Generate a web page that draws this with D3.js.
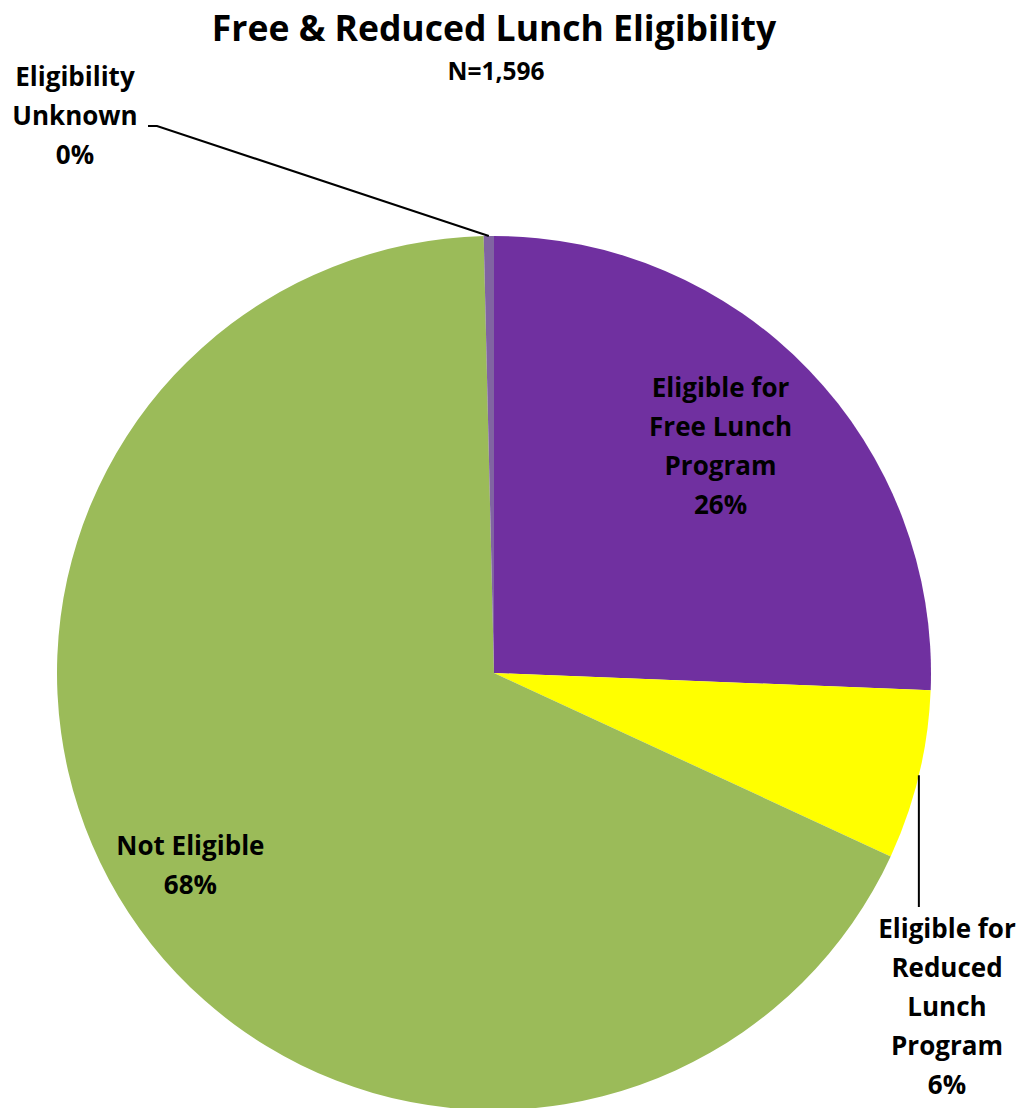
<!DOCTYPE html>
<html>
<head>
<meta charset="utf-8">
<script src="https://cdn.jsdelivr.net/npm/d3@7"></script>
<style>
  html, body { margin: 0; padding: 0; background: #fff; }
  svg { display: block; }
  text { font-family: "Open Sans", "Lato", sans-serif; font-weight: bold; fill: #000; }
</style>
</head>
<body>
<svg id="chart" width="1023" height="1108"></svg>
<script>
// ---- data ----
const categories = [
  "Eligible for Free Lunch Program",
  "Eligible for Reduced Lunch Program",
  "Not Eligible",
  "Eligibility Unknown"
];
const counts = [409, 100, 1081, 6];
const labelLines = [
  ["Eligible for", "Free Lunch", "Program"],
  ["Eligible for", "Reduced", "Lunch", "Program"],
  ["Not Eligible"],
  ["Eligibility", "Unknown"]
];
const colors = ["#7030A0", "#FFFF00", "#9BBB59", "#8064A2"];
const titleText = "Free & Reduced Lunch Eligibility";
const subtitleText = "N=1,596";

// ---- layout ----
const W = 1023, H = 1108;
const cx = 494, cy = 673, R = 437;
const lineH = 39;
const svg = d3.select("#chart");

svg.append("text").attr("x", 494).attr("y", 41)
  .attr("text-anchor", "middle").attr("font-size", 35.5).text(titleText);
svg.append("text").attr("x", 496).attr("y", 80)
  .attr("text-anchor", "middle").attr("font-size", 24.5).text(subtitleText);

const total = d3.sum(counts);
const data = categories.map((c, i) => ({ name: c, value: counts[i], lines: labelLines[i], color: colors[i] }));
const pie = d3.pie().sort(null).value(d => d.value);
const arcs = pie(data);
const arc = d3.arc().innerRadius(0).outerRadius(R);

const g = svg.append("g").attr("transform", `translate(${cx},${cy})`);
g.selectAll("path.slice").data(arcs).enter().append("path")
  .attr("class", "slice")
  .attr("d", arc)
  .attr("fill", d => d.data.color);

const pct = d => Math.round(d.data.value / total * 100) + "%";

// label placement (layout only)
const labelPos = [
  { type: "inside", k: 0.735, dx: -5, dy: -4 },
  { type: "outside", x: 947, y: 929, leaderEndY: 907 },
  { type: "inside", k: 0.82, dx: -4, dy: -4 },
  { type: "outside", x: 75, y: 77, leaderElbowX: 157, leaderEndX: 148, leaderY: 126 }
];

arcs.forEach((a, i) => {
  const lp = labelPos[i];
  const lines = a.data.lines.concat([pct(a)]);
  const mid = (a.startAngle + a.endAngle) / 2;
  let x0, y0;
  if (lp.type === "inside") {
    const c = d3.arc().innerRadius(0).outerRadius(R * lp.k * 2).centroid(a);
    x0 = cx + c[0] + lp.dx;
    y0 = cy + c[1] + lp.dy - (lines.length - 1) * lineH / 2;
  } else {
    x0 = lp.x; y0 = lp.y;
    const px = cx + R * Math.sin(mid), py = cy - R * Math.cos(mid);
    let pts;
    if (lp.leaderEndY !== undefined) {
      pts = [[px, py], [px, lp.leaderEndY]];
    } else {
      pts = [[px, py], [lp.leaderElbowX, lp.leaderY], [lp.leaderEndX, lp.leaderY]];
    }
    svg.append("path").attr("d", d3.line()(pts))
      .attr("fill", "none").attr("stroke", "#000").attr("stroke-width", 2);
  }
  const t = svg.append("text").attr("text-anchor", "middle").attr("font-size", 26);
  lines.forEach((ln, j) => {
    t.append("tspan").attr("x", x0).attr("y", y0 + j * lineH).attr("dy", "0.35em").text(ln);
  });
});
</script>
</body>
</html>
